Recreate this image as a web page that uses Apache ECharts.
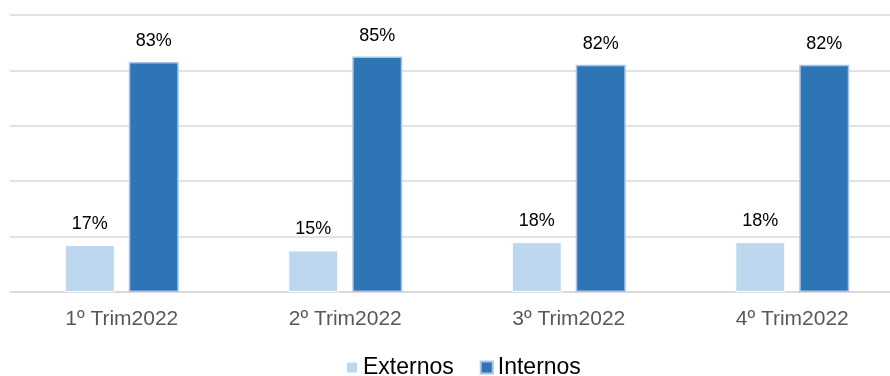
<!DOCTYPE html>
<html>
<head>
<meta charset="utf-8">
<script src="https://cdn.jsdelivr.net/npm/echarts@6/dist/echarts.min.js"></script>
<style>
html,body{margin:0;padding:0;background:#fff;}
#c{width:890px;height:376px;}
</style>
</head>
<body>
<div id="c"></div>
<script>
const categories = ['1º Trim2022', '2º Trim2022', '3º Trim2022', '4º Trim2022'];
const externos = [17, 15, 18, 18];
const internos = [83, 85, 82, 82];
const seriesNames = ['Externos', 'Internos'];

const chart = echarts.init(document.getElementById('c'));
const font = '"Liberation Sans", Arial, sans-serif';
const labelCfg = {
  show: true,
  position: 'top',
  distance: 12,
  formatter: p => p.value + '%',
  color: '#000',
  fontSize: 18,
  fontFamily: font
};
chart.setOption({
  animation: false,
  grid: { left: 10, width: 894, top: 15, height: 277, containLabel: false, outerBoundsMode: 'none' },
  legend: {
    data: seriesNames,
    left: 340,
    top: 351,
    itemWidth: 12,
    itemHeight: 12,
    itemGap: 26,
    icon: 'rect',
    textStyle: { fontSize: 23, color: '#000', fontFamily: font }
  },
  xAxis: {
    type: 'category',
    data: categories,
    axisTick: { show: false },
    axisLine: { lineStyle: { color: '#D9D9D9', width: 1.5 } },
    axisLabel: { color: '#595959', fontSize: 21, margin: 17, fontFamily: font }
  },
  yAxis: {
    type: 'value',
    min: 0,
    max: 100,
    interval: 20,
    axisLabel: { show: false },
    axisLine: { show: false },
    axisTick: { show: false },
    splitLine: { lineStyle: { color: '#D9D9D9', width: 1.5 } }
  },
  series: [
    {
      name: seriesNames[0],
      type: 'bar',
      data: externos,
      barWidth: 50,
      barGap: '28%',
      itemStyle: { color: '#BDD7EE', borderColor: '#FFFFFF', borderWidth: 1 },
      label: labelCfg
    },
    {
      name: seriesNames[1],
      type: 'bar',
      data: internos,
      barWidth: 50,
      barGap: '28%',
      itemStyle: { color: '#2E75B6', borderColor: '#A9C4E8', borderWidth: 1.5 },
      label: labelCfg
    }
  ]
});
</script>
</body>
</html>
